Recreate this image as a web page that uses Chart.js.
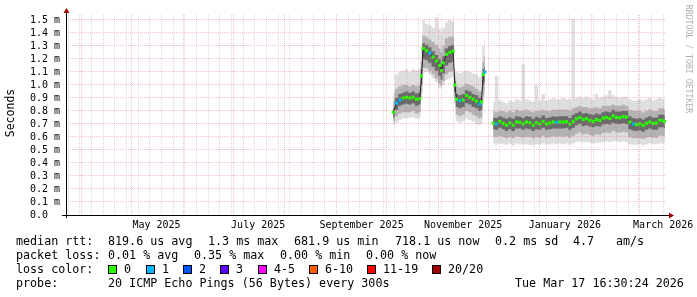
<!DOCTYPE html>
<html>
<head>
<meta charset="utf-8">
<script src="https://cdn.jsdelivr.net/npm/chart.js@4/dist/chart.umd.min.js"></script>
<style>
  html, body { margin: 0; padding: 0; background: #fff; }
  canvas { display: block; }
</style>
</head>
<body>
<canvas id="smokeChart" width="697" height="297"></canvas>
<script>
// Sample dates (one smoke column each), a null row marks the outage gap
const dates = [
  '2025-10-05','2025-10-07','2025-10-09','2025-10-11','2025-10-13','2025-10-15','2025-10-17','2025-10-19','2025-10-21','2025-10-22','2025-10-23',
  '2025-10-25','2025-10-27','2025-10-29','2025-10-31','2025-11-02','2025-11-03','2025-11-04','2025-11-06','2025-11-08','2025-11-10','2025-11-11',
  '2025-11-12','2025-11-14','2025-11-16','2025-11-18','2025-11-20','2025-11-22','2025-11-24','2025-11-26','2025-11-27','2025-11-28','2025-11-29',
  '2025-12-01',
  '2025-12-04','2025-12-06','2025-12-08','2025-12-10','2025-12-12','2025-12-14','2025-12-16','2025-12-18','2025-12-20','2025-12-22','2025-12-24','2025-12-26','2025-12-28','2025-12-30',
  '2026-01-01','2026-01-03','2026-01-05','2026-01-07','2026-01-09','2026-01-11','2026-01-13','2026-01-15','2026-01-17','2026-01-19','2026-01-21','2026-01-23','2026-01-25','2026-01-27','2026-01-29','2026-01-31',
  '2026-02-02','2026-02-04','2026-02-06','2026-02-08','2026-02-10','2026-02-12','2026-02-14','2026-02-16','2026-02-18','2026-02-20','2026-02-22','2026-02-24','2026-02-26','2026-02-28',
  '2026-03-02','2026-03-04','2026-03-06','2026-03-08','2026-03-10','2026-03-12','2026-03-14','2026-03-16','2026-03-17'
];

// Median rtt (ms)
const median = [
  0.79, 0.86, 0.885, 0.90, 0.905, 0.90, 0.905, 0.89, 0.895, 1.07, 1.28,
  1.265, 1.245, 1.215, 1.185, 1.15, 1.11, 1.17, 1.235, 1.25, 1.26, 1.00,
  0.89, 0.88, 0.885, 0.92, 0.905, 0.89, 0.875, 0.855, 0.87, 1.08, 1.10,
  null,
  0.707, 0.70, 0.72, 0.705, 0.69, 0.707, 0.69, 0.715, 0.713, 0.70, 0.715, 0.71, 0.69, 0.71,
  0.70, 0.72, 0.70, 0.707, 0.715, 0.712, 0.715, 0.715, 0.717, 0.70, 0.72, 0.74, 0.75, 0.735, 0.74, 0.727,
  0.72, 0.733, 0.727, 0.745, 0.75, 0.742, 0.762, 0.75, 0.748, 0.757, 0.752, 0.715, 0.70, 0.695,
  0.70, 0.69, 0.705, 0.715, 0.705, 0.707, 0.728, 0.725, 0.718
];

// Lost pings per sample (out of 20)
const lost = [
  0, 1, 1, 0, 0, 0, 0, 0, 0, 0, 0,
  0, 1, 0, 0, 0, 0, 0, 0, 0, 0, 0,
  0, 1, 0, 0, 0, 0, 0, 1, 0, 0, 1,
  0,
  0, 1, 0, 0, 0, 0, 0, 0, 0, 0, 0, 0, 0, 0,
  0, 0, 0, 0, 0, 1, 0, 0, 0, 0, 0, 0, 0, 0, 0, 0,
  0, 0, 0, 0, 0, 0, 0, 0, 0, 0, 0, 0, 1, 0,
  0, 0, 0, 0, 0, 0, 0, 0, 0
];

// Smoke: slowest ping, upper spread, upper core, lower core, lower spread, fastest ping (ms)
const pingMax = [
  0.95, 1.08, 1.10, 1.11, 1.12, 1.10, 1.12, 1.11, 1.12, 1.30, 1.50,
  1.47, 1.46, 1.44, 1.52, 1.43, 1.40, 1.44, 1.48, 1.50, 1.49, 1.12,
  1.10, 1.09, 1.10, 1.11, 1.10, 1.09, 1.08, 1.06, 1.07, 1.30, 1.34,
  null,
  0.87, 1.07, 0.88, 0.87, 0.86, 0.88, 0.87, 0.89, 0.88, 1.16, 0.89, 0.88, 0.87, 1.00,
  0.88, 0.93, 0.88, 0.89, 0.90, 0.89, 0.89, 0.90, 0.89, 0.89, 1.51, 0.90, 0.91, 0.90, 0.91, 0.90,
  0.89, 0.93, 0.90, 0.91, 0.92, 0.96, 0.92, 0.91, 0.90, 0.91, 0.91, 0.89, 0.88, 0.88,
  0.89, 0.88, 0.89, 0.90, 0.88, 0.89, 0.90, 0.89, 0.88
];
const upperSpread = [
  0.88, 0.97, 0.99, 1.00, 1.00, 0.99, 1.00, 0.99, 1.00, 1.18, 1.38,
  1.37, 1.35, 1.33, 1.31, 1.28, 1.25, 1.30, 1.36, 1.37, 1.37, 1.06,
  0.99, 0.98, 0.99, 1.01, 1.00, 0.99, 0.97, 0.95, 0.96, 1.18, 1.22,
  null,
  0.80, 0.79, 0.80, 0.80, 0.79, 0.80, 0.79, 0.81, 0.80, 0.80, 0.81, 0.80, 0.79, 0.80,
  0.80, 0.81, 0.80, 0.80, 0.81, 0.81, 0.81, 0.81, 0.81, 0.80, 0.82, 0.83, 0.84, 0.83, 0.83, 0.82,
  0.82, 0.83, 0.82, 0.84, 0.84, 0.84, 0.85, 0.84, 0.84, 0.85, 0.84, 0.81, 0.80, 0.80,
  0.80, 0.79, 0.80, 0.81, 0.80, 0.80, 0.82, 0.82, 0.81
];
const upperCore = [
  0.82, 0.90, 0.93, 0.94, 0.95, 0.94, 0.95, 0.935, 0.94, 1.12, 1.32,
  1.31, 1.29, 1.26, 1.23, 1.20, 1.16, 1.22, 1.28, 1.30, 1.31, 1.03,
  0.93, 0.92, 0.93, 0.96, 0.95, 0.93, 0.92, 0.90, 0.91, 1.12, 1.14,
  null,
  0.75, 0.745, 0.76, 0.75, 0.74, 0.75, 0.74, 0.76, 0.755, 0.745, 0.76, 0.755, 0.74, 0.755,
  0.745, 0.765, 0.745, 0.75, 0.76, 0.755, 0.76, 0.76, 0.76, 0.745, 0.77, 0.785, 0.795, 0.78, 0.785, 0.775,
  0.77, 0.78, 0.775, 0.79, 0.795, 0.79, 0.81, 0.795, 0.795, 0.80, 0.80, 0.76, 0.745, 0.74,
  0.745, 0.735, 0.75, 0.76, 0.75, 0.75, 0.77, 0.77, 0.765
];
const lowerCore = [
  0.75, 0.81, 0.84, 0.85, 0.855, 0.85, 0.86, 0.84, 0.85, 1.00, 1.20,
  1.19, 1.17, 1.14, 1.11, 1.07, 1.04, 1.09, 1.15, 1.17, 1.18, 0.95,
  0.83, 0.82, 0.83, 0.86, 0.85, 0.83, 0.82, 0.80, 0.81, 1.00, 1.02,
  null,
  0.66, 0.655, 0.67, 0.66, 0.645, 0.66, 0.645, 0.665, 0.665, 0.655, 0.665, 0.66, 0.645, 0.66,
  0.655, 0.67, 0.655, 0.66, 0.665, 0.665, 0.665, 0.665, 0.67, 0.655, 0.67, 0.69, 0.70, 0.685, 0.69, 0.68,
  0.675, 0.685, 0.68, 0.695, 0.70, 0.695, 0.71, 0.70, 0.70, 0.705, 0.70, 0.66, 0.65, 0.645,
  0.65, 0.64, 0.655, 0.665, 0.655, 0.655, 0.675, 0.675, 0.665
];
const lowerSpread = [
  0.72, 0.76, 0.78, 0.79, 0.79, 0.79, 0.80, 0.78, 0.79, 0.94, 1.13,
  1.13, 1.11, 1.08, 1.05, 1.01, 1.00, 1.03, 1.08, 1.10, 1.11, 0.90,
  0.77, 0.76, 0.77, 0.80, 0.79, 0.77, 0.76, 0.74, 0.75, 0.92, 0.96,
  null,
  0.60, 0.60, 0.61, 0.60, 0.59, 0.60, 0.59, 0.605, 0.60, 0.595, 0.60, 0.60, 0.59, 0.60,
  0.595, 0.61, 0.595, 0.60, 0.605, 0.60, 0.605, 0.60, 0.605, 0.595, 0.61, 0.625, 0.635, 0.62, 0.625, 0.615,
  0.61, 0.62, 0.615, 0.63, 0.635, 0.63, 0.645, 0.635, 0.635, 0.64, 0.635, 0.60, 0.59, 0.59,
  0.59, 0.585, 0.595, 0.60, 0.595, 0.595, 0.61, 0.61, 0.605
];
const pingMin = [
  0.69, 0.71, 0.73, 0.74, 0.745, 0.75, 0.75, 0.74, 0.75, 0.90, 1.09,
  1.10, 1.08, 1.05, 1.02, 0.98, 0.97, 1.00, 1.04, 1.05, 1.06, 0.86,
  0.72, 0.71, 0.72, 0.74, 0.73, 0.72, 0.70, 0.69, 0.70, 0.86, 0.90,
  null,
  0.55, 0.54, 0.55, 0.545, 0.54, 0.55, 0.535, 0.55, 0.545, 0.54, 0.545, 0.54, 0.535, 0.545,
  0.54, 0.55, 0.54, 0.545, 0.55, 0.545, 0.55, 0.545, 0.55, 0.54, 0.55, 0.56, 0.565, 0.56, 0.56, 0.555,
  0.55, 0.555, 0.555, 0.56, 0.565, 0.56, 0.57, 0.565, 0.56, 0.565, 0.56, 0.545, 0.54, 0.54,
  0.545, 0.535, 0.545, 0.55, 0.545, 0.545, 0.55, 0.55, 0.55
];

// Axis ticks and labels
const yTicks = [0.0, 0.1, 0.2, 0.3, 0.4, 0.5, 0.6, 0.7, 0.8, 0.9, 1.0, 1.1, 1.2, 1.3, 1.4, 1.5];
const xLabelMonths = ['2025-05', '2025-07', '2025-09', '2025-11', '2026-01', '2026-03'];
const xLabelTexts = ['May 2025', 'July 2025', 'September 2025', 'November 2025', 'January 2026', 'March 2026'];

// Legend texts
const rttStats = ['819.6 us avg', '1.3 ms max', '681.9 us min', '718.1 us now', '0.2 ms sd', '4.7', 'am/s'];
const lossStats = ['0.01 % avg', '0.35 % max', '0.00 % min', '0.00 % now'];
const lossLabels = ['0', '1', '2', '3', '4-5', '6-10', '11-19', '20/20'];
const lossColors = ['#26ff00', '#00b8ff', '#0059ff', '#5e00ff', '#ff00ff', '#ff5e00', '#ff0000', '#a10000'];
const probeText = '20 ICMP Echo Pings (56 Bytes) every 300s';
const stampText = 'Tue Mar 17 16:30:24 2026';

const DAY = 86400000;
const rangeStart = Date.UTC(2025, 2, 22, 16, 30, 24);
const rangeEnd = Date.UTC(2026, 2, 17, 16, 30, 24);
const MONO = "'DejaVu Sans Mono', monospace";
const MAJOR_GRID = 'rgba(235,110,110,0.42)';
const MINOR_GRID = 'rgba(140,140,140,0.32)';

const toPoints = values => dates.map((d, i) => ({ x: Date.parse(d), y: values[i] }));

// Weekly minor lines (Mondays), monthly major lines, labels mid-month
function buildTimeTicks(scale) {
  const ticks = [];
  xLabelMonths.forEach((ym, i) => {
    ticks.push({ value: Date.parse(ym + '-01') + 15 * DAY, kind: 'label', text: xLabelTexts[i] });
  });
  for (let y = 2025, m = 3; Date.UTC(y, m, 1) < rangeEnd; m++) {
    if (m > 11) { m = 0; y++; }
    ticks.push({ value: Date.UTC(y, m, 1), kind: 'month' });
  }
  for (let t = Date.UTC(2025, 2, 24); t < rangeEnd; t += 7 * DAY) {
    if (new Date(t).getUTCDate() !== 1) ticks.push({ value: t, kind: 'week' });
  }
  scale.ticks = ticks;
}

function smokeSet(values, color, fill) {
  return {
    data: toPoints(values),
    borderColor: 'rgba(0,0,0,0)',
    borderWidth: 0,
    backgroundColor: color,
    pointRadius: 0,
    fill: fill ? '+1' : false,
    stepped: 'middle',
    spanGaps: false
  };
}

// Axis arrows, legend block, side texts
const smokepingDecor = {
  id: 'smokepingDecor',
  afterDraw(chart) {
    const c = chart.ctx;
    const a = chart.chartArea;
    c.save();

    c.strokeStyle = '#000';
    c.lineWidth = 1;
    c.beginPath();
    c.moveTo(a.left - 4, a.bottom + 0.5);
    c.lineTo(a.right + 4, a.bottom + 0.5);
    c.moveTo(a.left + 0.5, a.bottom + 3);
    c.lineTo(a.left + 0.5, a.top - 3);
    c.stroke();

    c.fillStyle = '#a00000';
    c.beginPath();
    c.moveTo(a.right + 3, a.bottom - 2.5);
    c.lineTo(a.right + 8, a.bottom + 0.5);
    c.lineTo(a.right + 3, a.bottom + 3.5);
    c.closePath();
    c.fill();
    c.beginPath();
    c.moveTo(a.left - 2.5, a.top - 2);
    c.lineTo(a.left + 0.5, a.top - 7);
    c.lineTo(a.left + 3.5, a.top - 2);
    c.closePath();
    c.fill();

    // y axis title
    c.fillStyle = '#000';
    c.font = '11.5px ' + MONO;
    c.textAlign = 'center';
    c.textBaseline = 'middle';
    c.save();
    c.translate(11, 113);
    c.rotate(-Math.PI / 2);
    c.fillText('Seconds', 0, 0);
    c.restore();

    // watermark
    c.save();
    c.fillStyle = '#b0b0b0';
    c.font = '8.2px ' + MONO;
    c.translate(688, 59);
    c.rotate(Math.PI / 2);
    c.fillText('RRDTOOL / TOBI OETIKER', 0, 0);
    c.restore();

    // legend rows
    c.font = '11.7px ' + MONO;
    c.textAlign = 'left';
    c.textBaseline = 'alphabetic';
    c.fillStyle = '#000';
    c.fillText('median rtt:', 16, 245);
    const rttX = [108, 208, 294, 395, 495, 573, 616];
    rttStats.forEach((s, i) => c.fillText(s, rttX[i], 245));

    c.fillText('packet loss:', 16, 259);
    const lossX = [108, 194, 280, 366];
    lossStats.forEach((s, i) => c.fillText(s, lossX[i], 259));

    c.fillText('loss color:', 16, 273);
    const boxX = [108, 146, 183, 220, 258, 309, 367, 432];
    lossLabels.forEach((s, i) => {
      c.fillStyle = lossColors[i];
      c.fillRect(boxX[i] + 0.5, 265.5, 8, 8);
      c.strokeStyle = '#000';
      c.strokeRect(boxX[i] + 0.5, 265.5, 8, 8);
      c.fillStyle = '#000';
      c.fillText(s, boxX[i] + 16, 273);
    });

    c.fillText('probe:', 16, 287);
    c.fillText(probeText, 108, 287);
    c.fillText(stampText, 515, 287);

    c.restore();
  }
};

const chart = new Chart(document.getElementById('smokeChart'), {
  type: 'line',
  data: {
    datasets: [
      {
        data: toPoints(median),
        borderColor: '#1e1e1e',
        borderWidth: 1,
        pointStyle: 'rect',
        pointRadius: 2.2,
        pointBorderWidth: 0,
        pointBackgroundColor: lost.map(n => lossColors[n]),
        fill: false,
        spanGaps: false
      },
      smokeSet(upperCore, '#6a6a6a', true),
      smokeSet(lowerCore, 'rgba(0,0,0,0)', false),
      smokeSet(upperSpread, '#b3b3b3', true),
      smokeSet(lowerSpread, 'rgba(0,0,0,0)', false),
      smokeSet(pingMax, '#dedede', true),
      smokeSet(pingMin, 'rgba(0,0,0,0)', false)
    ]
  },
  options: {
    responsive: false,
    animation: false,
    devicePixelRatio: 1,
    layout: { padding: { left: 0, right: 31, top: 15, bottom: 0 } },
    plugins: {
      legend: { display: false },
      tooltip: { enabled: false }
    },
    scales: {
      x: {
        type: 'linear',
        min: rangeStart,
        max: rangeEnd,
        afterBuildTicks: buildTimeTicks,
        afterFit: scale => { scale.height = 82; },
        border: { display: false, dash: [1, 1] },
        grid: {
          z: 1,
          drawTicks: false,
          color: ctx => {
            const kind = ctx.tick && ctx.tick.kind;
            if (kind === 'month') return MAJOR_GRID;
            if (kind === 'week') return MINOR_GRID;
            return 'rgba(0,0,0,0)';
          }
        },
        ticks: {
          autoSkip: false,
          maxRotation: 0,
          minRotation: 0,
          padding: 4,
          color: '#000',
          font: { family: MONO, size: 10 },
          callback: (value, index, ticks) => ticks[index].text || ''
        }
      },
      y: {
        min: 0,
        max: 1.538,
        afterBuildTicks: scale => { scale.ticks = yTicks.map(v => ({ value: v })); },
        afterFit: scale => { scale.width = 66; },
        border: { display: false, dash: [1, 1] },
        grid: {
          z: 1,
          drawTicks: false,
          color: MAJOR_GRID
        },
        ticks: {
          autoSkip: false,
          padding: 6,
          color: '#000',
          font: { family: MONO, size: 10 },
          callback: v => (v === 0 ? '0.0  ' : v.toFixed(1) + ' m')
        }
      }
    }
  },
  plugins: [smokepingDecor]
});
</script>
</body>
</html>
